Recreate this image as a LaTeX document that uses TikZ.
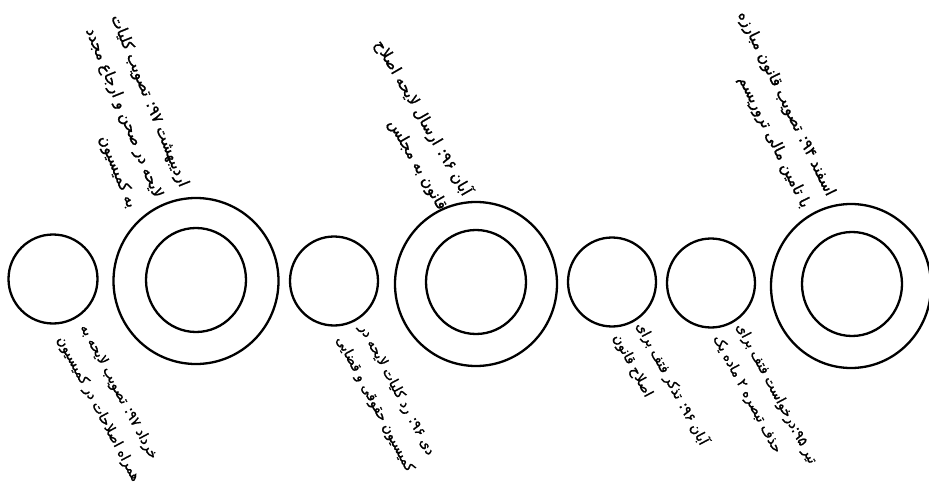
\documentclass[tikz,border=0pt]{standalone}
\usepackage{fontspec}
\usetikzlibrary{shapes.geometric}
\newfontfamily\arabicfont[Script=Arabic,FakeBold=1.2]{DejaVu Sans}
\TeXXeTstate=1
\newcommand{\fatxt}[1]{\arabicfont\beginR #1\endR}
\begin{document}
\begin{tikzpicture}[x=1pt,y=-1pt,
  ring/.style={draw, line width=2.3pt, ellipse, inner sep=0pt},
  lab/.style={font=\fontsize{13.8}{16}\selectfont, inner sep=0pt},
  labbig/.style={font=\fontsize{15.5}{18}\selectfont, inner sep=0pt}]
\useasboundingbox (0,0) rectangle (929,484);
\fill[white] (0,0) rectangle (929,484);
% circles
\node[ring, minimum width=89pt, minimum height=89pt] (c1) at (53,279) {};
\node[ring, minimum width=165pt, minimum height=166pt] (c2o) at (196,281) {};
\node[ring, minimum width=100pt, minimum height=104pt] (c2i) at (196,280) {};
\node[ring, minimum width=88pt, minimum height=89pt] (c3) at (334,281) {};
\node[ring, minimum width=162pt, minimum height=164pt] (c4o) at (476,284) {};
\node[ring, minimum width=100pt, minimum height=104pt] (c4i) at (476,282) {};
\node[ring, minimum width=88pt, minimum height=89pt] (c5) at (612,282) {};
\node[ring, minimum width=88pt, minimum height=89pt] (c6) at (711,283) {};
\node[ring, minimum width=160pt, minimum height=164pt] (c7o) at (851,286) {};
\node[ring, minimum width=100pt, minimum height=104pt] (c7i) at (852,284) {};
% top labels
\node[labbig, rotate=-68, anchor=base east] (l2a) at (180,188) {\fatxt{اردیبهشت \beginL۹۷\endL: تصویب کلیات}};
\node[labbig, rotate=-68, anchor=base east] (l2b) at (154,199) {\fatxt{لایحه در صحن و ارجاع مجدد}};
\node[labbig, rotate=-68, anchor=base east] (l2c) at (128,209) {\fatxt{به کمیسیون}};
\node[labbig, rotate=-60, anchor=base east] (l4a) at (463,197) {\fatxt{آبان \beginL۹۶\endL: ارسال لایحه اصلاح}};
\node[labbig, rotate=-60, anchor=base east] (l4b) at (439,211) {\fatxt{قانون به مجلس}};
\node[labbig, rotate=-64, anchor=base east] (l7a) at (827,197) {\fatxt{اسفند \beginL۹۴\endL: تصویب قانون مبارزه}};
\node[labbig, rotate=-64, anchor=base east] (l7b) at (802,209) {\fatxt{با تامین مالی تروریسم}};
% bottom labels
\node[lab, rotate=-62, anchor=base west] (l1a) at (80,327) {\fatxt{خرداد \beginL۹۷\endL: تصویب لایحه به}};
\node[lab, rotate=-62, anchor=base west] (l1b) at (57,339) {\fatxt{همراه اصلاحات در کمیسیون}};
\node[lab, rotate=-62, anchor=base west] (l3a) at (359,327) {\fatxt{دی \beginL۹۶\endL: رد کلیات لایحه در}};
\node[lab, rotate=-62, anchor=base west] (l3b) at (336,339) {\fatxt{کمیسیون حقوقی و قضایی}};
\node[lab, rotate=-62, anchor=base west] (l5a) at (636,325) {\fatxt{آبان \beginL۹۶\endL: تذکر فتف برای}};
\node[lab, rotate=-62, anchor=base west] (l5b) at (613,337) {\fatxt{اصلاح قانون}};
\node[lab, rotate=-62, anchor=base west] (l6a) at (736,326) {\fatxt{تیر \beginL۹۵\endL:درخواست فتف برای}};
\node[lab, rotate=-62, anchor=base west] (l6b) at (713,338) {\fatxt{حذف تبصره ۲ ماده یک}};
\end{tikzpicture}
\end{document}
